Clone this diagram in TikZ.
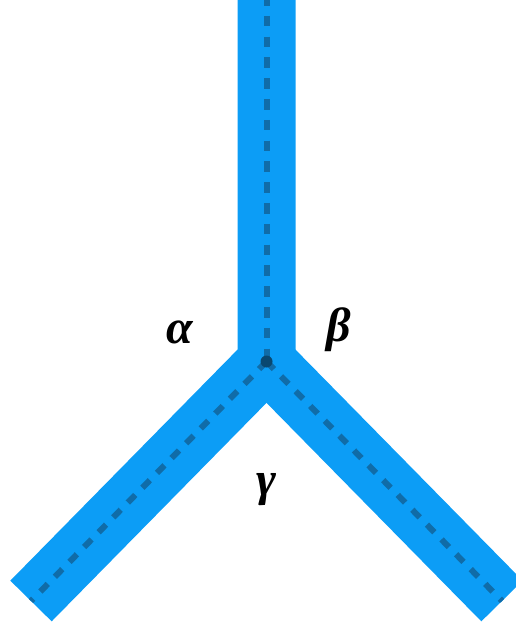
\documentclass[tikz,border=0pt]{standalone}
\usepackage{fontspec}
\setmainfont{Liberation Serif}
\definecolor{stripblue}{RGB}{12,157,246}
\definecolor{axisblue}{RGB}{16,108,168}
\definecolor{junctiondot}{RGB}{10,72,112}
\tikzset{
  junctionstrip/.style={
    draw=stripblue,
    line width=29pt,
    line cap=butt,
    line join=miter
  },
  centreaxis/.style={
    draw=axisblue,
    line width=3pt,
    dash pattern=on 5.3pt off 5.1pt
  },
  anglelabel/.style={
    font=\fontsize{24}{28}\selectfont\bfseries\itshape
  }
}
\begin{document}
\begin{tikzpicture}[x=0.5pt,y=-0.5pt]

  % Picture frame in pixel units of the original figure (y grows downwards).
  \useasboundingbox (0,0) rectangle (515,625);

  % Junction point and the free ends of the three arms.
  \coordinate (O) at (266.5,361.5);
  \coordinate (T) at (266.5,0);
  \coordinate (L) at (31,601);
  \coordinate (R) at (502,601);

  % Three thick strips meeting at the junction.
  \draw[junctionstrip] (T) -- (O) -- (L);
  \draw[junctionstrip] (O) -- (R);

  % Dashed centre lines of the strips.
  \draw[centreaxis,dash phase=2.5pt] (T) -- (O);
  \draw[centreaxis] (O) -- (L);
  \draw[centreaxis] (O) -- (R);

  % Junction point drawn last.
  \fill[junctiondot] (O) circle[radius=6];

  % Angles between the arms.
  \node[anglelabel] (alpha) at (180,332) {α};
  \node[anglelabel] (beta) at (339,330) {β};
  \node[anglelabel] (gamma) at (266,490) {γ};

\end{tikzpicture}
\end{document}
